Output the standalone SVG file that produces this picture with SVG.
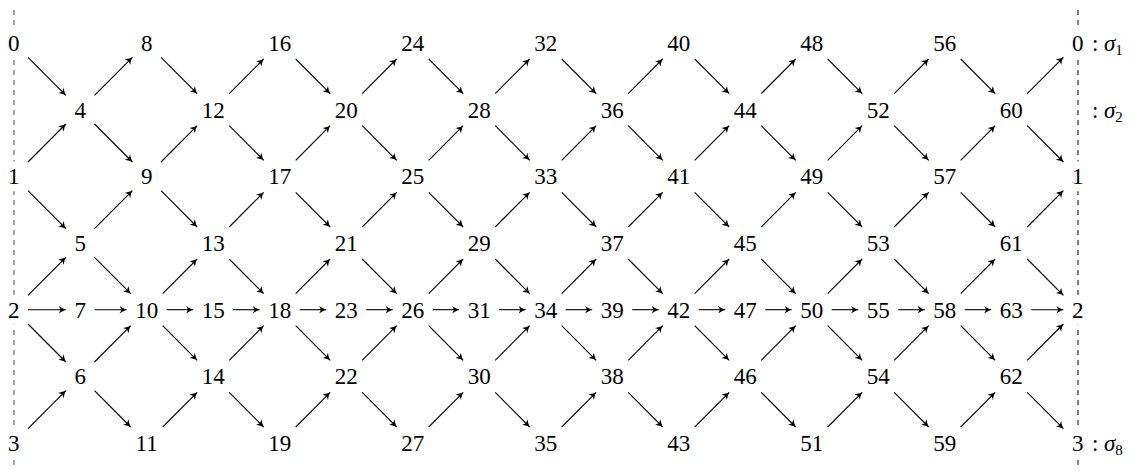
<svg xmlns="http://www.w3.org/2000/svg" width="1133" height="471" viewBox="0 0 1133 471">
<defs>
<style>
text{font-family:"Liberation Serif","DejaVu Serif",serif;font-size:23px;fill:#000;text-anchor:middle}
.sig{text-anchor:start}
.e line{stroke:#000;stroke-width:1.1;fill:none;marker-end:url(#ah)}
.bg{fill:#fff}
</style>
<marker id="ah" viewBox="-8 -5 10 10" markerWidth="10" markerHeight="10" refX="0" refY="0" orient="auto" markerUnits="userSpaceOnUse">
<path d="M0,0 C-2,-0.6 -4.5,-2 -7,-3.8 L-5.2,0 L-7,3.8 C-4.5,2 -2,0.6 0,0 Z" fill="#000"/>
</marker>
</defs>
<rect width="1133" height="471" fill="#fff"/>
<g id="boundaries">
<line x1="14" y1="10" x2="14" y2="468" stroke="#777" stroke-width="1.3" stroke-dasharray="5,5"/>
<line x1="1078" y1="10" x2="1078" y2="468" stroke="#000" stroke-width="1" stroke-dasharray="5,5"/>
</g>
<g id="connectors" class="e">
<line x1="28" y1="57.3" x2="65.9" y2="95.4"/>
<line x1="28" y1="162" x2="65.9" y2="124"/>
<line x1="28" y1="190.6" x2="65.9" y2="228.7"/>
<line x1="28" y1="295.4" x2="65.9" y2="257.3"/>
<line x1="28" y1="309.7" x2="65.9" y2="309.7"/>
<line x1="28" y1="324" x2="65.9" y2="362"/>
<line x1="28" y1="428.7" x2="65.9" y2="390.6"/>
<line x1="94.5" y1="95.4" x2="132.4" y2="57.3"/>
<line x1="94.5" y1="124" x2="132.4" y2="162"/>
<line x1="94.5" y1="228.7" x2="132.4" y2="190.6"/>
<line x1="94.5" y1="257.3" x2="130.7" y2="293.7"/>
<line x1="94.5" y1="309.7" x2="126.7" y2="309.7"/>
<line x1="94.5" y1="362" x2="130.7" y2="325.7"/>
<line x1="94.5" y1="390.6" x2="130.7" y2="427"/>
<line x1="161" y1="57.3" x2="197.2" y2="93.7"/>
<line x1="161" y1="162" x2="197.2" y2="125.7"/>
<line x1="161" y1="190.6" x2="197.2" y2="227"/>
<line x1="162.7" y1="293.7" x2="197.2" y2="259"/>
<line x1="166.7" y1="309.7" x2="193.2" y2="309.7"/>
<line x1="162.7" y1="325.7" x2="197.2" y2="360.3"/>
<line x1="162.7" y1="427" x2="197.2" y2="392.3"/>
<line x1="229.2" y1="93.7" x2="263.7" y2="59"/>
<line x1="229.2" y1="125.7" x2="263.7" y2="160.3"/>
<line x1="229.2" y1="227" x2="263.7" y2="192.3"/>
<line x1="229.2" y1="259" x2="263.7" y2="293.7"/>
<line x1="233.2" y1="309.7" x2="259.7" y2="309.7"/>
<line x1="229.2" y1="360.3" x2="263.7" y2="325.7"/>
<line x1="229.2" y1="392.3" x2="263.7" y2="427"/>
<line x1="295.7" y1="59" x2="330.2" y2="93.7"/>
<line x1="295.7" y1="160.3" x2="330.2" y2="125.7"/>
<line x1="295.7" y1="192.3" x2="330.2" y2="227"/>
<line x1="295.7" y1="293.7" x2="330.2" y2="259"/>
<line x1="299.7" y1="309.7" x2="326.2" y2="309.7"/>
<line x1="295.7" y1="325.7" x2="330.2" y2="360.3"/>
<line x1="295.7" y1="427" x2="330.2" y2="392.3"/>
<line x1="362.2" y1="93.7" x2="396.7" y2="59"/>
<line x1="362.2" y1="125.7" x2="396.7" y2="160.3"/>
<line x1="362.2" y1="227" x2="396.7" y2="192.3"/>
<line x1="362.2" y1="259" x2="396.7" y2="293.7"/>
<line x1="366.2" y1="309.7" x2="392.7" y2="309.7"/>
<line x1="362.2" y1="360.3" x2="396.7" y2="325.7"/>
<line x1="362.2" y1="392.3" x2="396.7" y2="427"/>
<line x1="428.7" y1="59" x2="463.2" y2="93.7"/>
<line x1="428.7" y1="160.3" x2="463.2" y2="125.7"/>
<line x1="428.7" y1="192.3" x2="463.2" y2="227"/>
<line x1="428.7" y1="293.7" x2="463.2" y2="259"/>
<line x1="432.7" y1="309.7" x2="459.2" y2="309.7"/>
<line x1="428.7" y1="325.7" x2="463.2" y2="360.3"/>
<line x1="428.7" y1="427" x2="463.2" y2="392.3"/>
<line x1="495.2" y1="93.7" x2="529.7" y2="59"/>
<line x1="495.2" y1="125.7" x2="529.7" y2="160.3"/>
<line x1="495.2" y1="227" x2="529.7" y2="192.3"/>
<line x1="495.2" y1="259" x2="529.7" y2="293.7"/>
<line x1="499.2" y1="309.7" x2="525.7" y2="309.7"/>
<line x1="495.2" y1="360.3" x2="529.7" y2="325.7"/>
<line x1="495.2" y1="392.3" x2="529.7" y2="427"/>
<line x1="561.7" y1="59" x2="596.2" y2="93.7"/>
<line x1="561.7" y1="160.3" x2="596.2" y2="125.7"/>
<line x1="561.7" y1="192.3" x2="596.2" y2="227"/>
<line x1="561.7" y1="293.7" x2="596.2" y2="259"/>
<line x1="565.7" y1="309.7" x2="592.2" y2="309.7"/>
<line x1="561.7" y1="325.7" x2="596.2" y2="360.3"/>
<line x1="561.7" y1="427" x2="596.2" y2="392.3"/>
<line x1="628.2" y1="93.7" x2="662.7" y2="59"/>
<line x1="628.2" y1="125.7" x2="662.7" y2="160.3"/>
<line x1="628.2" y1="227" x2="662.7" y2="192.3"/>
<line x1="628.2" y1="259" x2="662.7" y2="293.7"/>
<line x1="632.2" y1="309.7" x2="658.7" y2="309.7"/>
<line x1="628.2" y1="360.3" x2="662.7" y2="325.7"/>
<line x1="628.2" y1="392.3" x2="662.7" y2="427"/>
<line x1="694.7" y1="59" x2="729.2" y2="93.7"/>
<line x1="694.7" y1="160.3" x2="729.2" y2="125.7"/>
<line x1="694.7" y1="192.3" x2="729.2" y2="227"/>
<line x1="694.7" y1="293.7" x2="729.2" y2="259"/>
<line x1="698.7" y1="309.7" x2="725.2" y2="309.7"/>
<line x1="694.7" y1="325.7" x2="729.2" y2="360.3"/>
<line x1="694.7" y1="427" x2="729.2" y2="392.3"/>
<line x1="761.2" y1="93.7" x2="795.7" y2="59"/>
<line x1="761.2" y1="125.7" x2="795.7" y2="160.3"/>
<line x1="761.2" y1="227" x2="795.7" y2="192.3"/>
<line x1="761.2" y1="259" x2="795.7" y2="293.7"/>
<line x1="765.2" y1="309.7" x2="791.7" y2="309.7"/>
<line x1="761.2" y1="360.3" x2="795.7" y2="325.7"/>
<line x1="761.2" y1="392.3" x2="795.7" y2="427"/>
<line x1="827.7" y1="59" x2="862.2" y2="93.7"/>
<line x1="827.7" y1="160.3" x2="862.2" y2="125.7"/>
<line x1="827.7" y1="192.3" x2="862.2" y2="227"/>
<line x1="827.7" y1="293.7" x2="862.2" y2="259"/>
<line x1="831.7" y1="309.7" x2="858.2" y2="309.7"/>
<line x1="827.7" y1="325.7" x2="862.2" y2="360.3"/>
<line x1="827.7" y1="427" x2="862.2" y2="392.3"/>
<line x1="894.2" y1="93.7" x2="928.7" y2="59"/>
<line x1="894.2" y1="125.7" x2="928.7" y2="160.3"/>
<line x1="894.2" y1="227" x2="928.7" y2="192.3"/>
<line x1="894.2" y1="259" x2="928.7" y2="293.7"/>
<line x1="898.2" y1="309.7" x2="924.7" y2="309.7"/>
<line x1="894.2" y1="360.3" x2="928.7" y2="325.7"/>
<line x1="894.2" y1="392.3" x2="928.7" y2="427"/>
<line x1="960.7" y1="59" x2="995.2" y2="93.7"/>
<line x1="960.7" y1="160.3" x2="995.2" y2="125.7"/>
<line x1="960.7" y1="192.3" x2="995.2" y2="227"/>
<line x1="960.7" y1="293.7" x2="995.2" y2="259"/>
<line x1="964.7" y1="309.7" x2="991.2" y2="309.7"/>
<line x1="960.7" y1="325.7" x2="995.2" y2="360.3"/>
<line x1="960.7" y1="427" x2="995.2" y2="392.3"/>
<line x1="1027.2" y1="93.7" x2="1063.4" y2="57.3"/>
<line x1="1027.2" y1="125.7" x2="1063.4" y2="162"/>
<line x1="1027.2" y1="227" x2="1063.4" y2="190.6"/>
<line x1="1027.2" y1="259" x2="1063.4" y2="295.4"/>
<line x1="1031.2" y1="309.7" x2="1063.4" y2="309.7"/>
<line x1="1027.2" y1="360.3" x2="1063.4" y2="324"/>
<line x1="1027.2" y1="392.3" x2="1063.4" y2="428.7"/>
</g>
<g id="nodes">
<g id="n0L"><rect class="bg" x="2.7" y="28" width="22" height="30"/><text x="13.7" y="50.8">0</text></g>
<g id="n1L"><rect class="bg" x="2.7" y="161.3" width="22" height="30"/><text x="13.7" y="184.1">1</text></g>
<g id="n2L"><rect class="bg" x="2.7" y="294.7" width="22" height="30"/><text x="13.7" y="317.5">2</text></g>
<g id="n3L"><rect class="bg" x="2.7" y="428" width="22" height="30"/><text x="13.7" y="450.8">3</text></g>
<g id="n4"><text x="80.2" y="117.5">4</text></g>
<g id="n5"><text x="80.2" y="250.8">5</text></g>
<g id="n7"><text x="80.2" y="317.5">7</text></g>
<g id="n6"><text x="80.2" y="384.1">6</text></g>
<g id="n8"><text x="146.7" y="50.8">8</text></g>
<g id="n9"><text x="146.7" y="184.1">9</text></g>
<g id="n10"><text x="146.7" y="317.5">10</text></g>
<g id="n11"><text x="146.7" y="450.8">11</text></g>
<g id="n12"><text x="213.2" y="117.5">12</text></g>
<g id="n13"><text x="213.2" y="250.8">13</text></g>
<g id="n15"><text x="213.2" y="317.5">15</text></g>
<g id="n14"><text x="213.2" y="384.1">14</text></g>
<g id="n16"><text x="279.7" y="50.8">16</text></g>
<g id="n17"><text x="279.7" y="184.1">17</text></g>
<g id="n18"><text x="279.7" y="317.5">18</text></g>
<g id="n19"><text x="279.7" y="450.8">19</text></g>
<g id="n20"><text x="346.2" y="117.5">20</text></g>
<g id="n21"><text x="346.2" y="250.8">21</text></g>
<g id="n23"><text x="346.2" y="317.5">23</text></g>
<g id="n22"><text x="346.2" y="384.1">22</text></g>
<g id="n24"><text x="412.7" y="50.8">24</text></g>
<g id="n25"><text x="412.7" y="184.1">25</text></g>
<g id="n26"><text x="412.7" y="317.5">26</text></g>
<g id="n27"><text x="412.7" y="450.8">27</text></g>
<g id="n28"><text x="479.2" y="117.5">28</text></g>
<g id="n29"><text x="479.2" y="250.8">29</text></g>
<g id="n31"><text x="479.2" y="317.5">31</text></g>
<g id="n30"><text x="479.2" y="384.1">30</text></g>
<g id="n32"><text x="545.7" y="50.8">32</text></g>
<g id="n33"><text x="545.7" y="184.1">33</text></g>
<g id="n34"><text x="545.7" y="317.5">34</text></g>
<g id="n35"><text x="545.7" y="450.8">35</text></g>
<g id="n36"><text x="612.2" y="117.5">36</text></g>
<g id="n37"><text x="612.2" y="250.8">37</text></g>
<g id="n39"><text x="612.2" y="317.5">39</text></g>
<g id="n38"><text x="612.2" y="384.1">38</text></g>
<g id="n40"><text x="678.7" y="50.8">40</text></g>
<g id="n41"><text x="678.7" y="184.1">41</text></g>
<g id="n42"><text x="678.7" y="317.5">42</text></g>
<g id="n43"><text x="678.7" y="450.8">43</text></g>
<g id="n44"><text x="745.2" y="117.5">44</text></g>
<g id="n45"><text x="745.2" y="250.8">45</text></g>
<g id="n47"><text x="745.2" y="317.5">47</text></g>
<g id="n46"><text x="745.2" y="384.1">46</text></g>
<g id="n48"><text x="811.7" y="50.8">48</text></g>
<g id="n49"><text x="811.7" y="184.1">49</text></g>
<g id="n50"><text x="811.7" y="317.5">50</text></g>
<g id="n51"><text x="811.7" y="450.8">51</text></g>
<g id="n52"><text x="878.2" y="117.5">52</text></g>
<g id="n53"><text x="878.2" y="250.8">53</text></g>
<g id="n55"><text x="878.2" y="317.5">55</text></g>
<g id="n54"><text x="878.2" y="384.1">54</text></g>
<g id="n56"><text x="944.7" y="50.8">56</text></g>
<g id="n57"><text x="944.7" y="184.1">57</text></g>
<g id="n58"><text x="944.7" y="317.5">58</text></g>
<g id="n59"><text x="944.7" y="450.8">59</text></g>
<g id="n60"><text x="1011.2" y="117.5">60</text></g>
<g id="n61"><text x="1011.2" y="250.8">61</text></g>
<g id="n63"><text x="1011.2" y="317.5">63</text></g>
<g id="n62"><text x="1011.2" y="384.1">62</text></g>
<g id="n0R"><rect class="bg" x="1066.7" y="28" width="22" height="30"/><text x="1077.7" y="50.8">0</text></g>
<g id="n1R"><rect class="bg" x="1066.7" y="161.3" width="22" height="30"/><text x="1077.7" y="184.1">1</text></g>
<g id="n2R"><rect class="bg" x="1066.7" y="294.7" width="22" height="30"/><text x="1077.7" y="317.5">2</text></g>
<g id="n3R"><rect class="bg" x="1066.7" y="428" width="22" height="30"/><text x="1077.7" y="450.8">3</text></g>
</g>
<g id="sigma-labels">
<text class="sig" x="1092" y="50.8">:<tspan dx="5.5" font-style="italic">σ</tspan><tspan font-size="15" dy="4.5">1</tspan></text>
<text class="sig" x="1092" y="117.5">:<tspan dx="5.5" font-style="italic">σ</tspan><tspan font-size="15" dy="4.5">2</tspan></text>
<text class="sig" x="1092" y="450.8">:<tspan dx="5.5" font-style="italic">σ</tspan><tspan font-size="15" dy="4.5">8</tspan></text>
</g>
</svg>
